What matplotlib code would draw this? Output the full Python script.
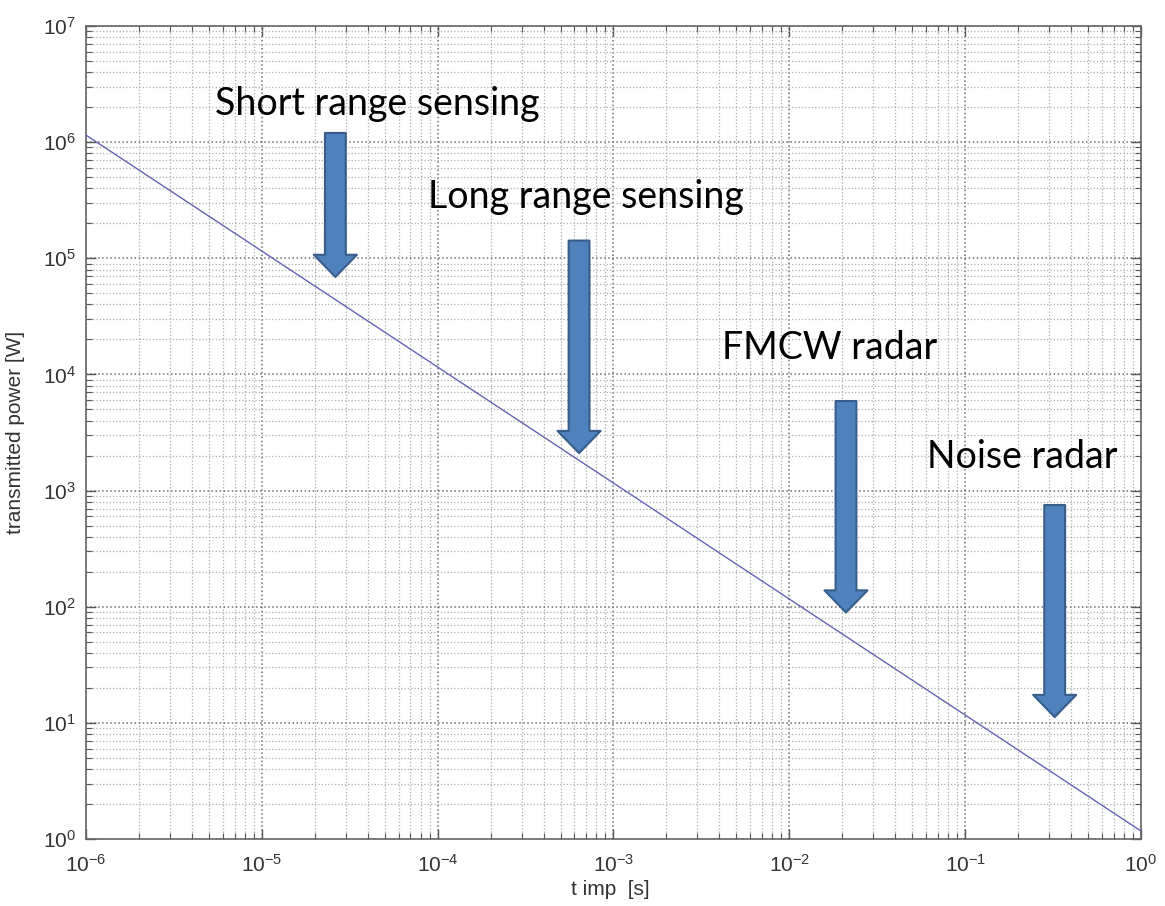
import matplotlib
matplotlib.use("Agg")
import matplotlib.pyplot as plt
from matplotlib.ticker import LogLocator, NullFormatter

plt.rcParams['font.family'] = ['Liberation Sans', 'DejaVu Sans']
plt.rcParams['mathtext.fontset'] = 'custom'
plt.rcParams['mathtext.rm'] = 'Liberation Sans'
plt.rcParams['mathtext.default'] = 'regular'

# data
t_imp = [1e-6, 1.0]
power = [1.15e6, 1.17]

labels = ["Short range sensing", "Long range sensing", "FMCW radar", "Noise radar"]
label_x = [5.42e-6, 8.8e-5, 4.15e-3, 6.08e-2]
label_y = [1.72e6, 2.72e5, 1.36e4, 1.57e3]
arrow_x = [2.62e-5, 6.37e-4, 2.10e-2, 0.323]
arrow_top = [1.2e6, 1.42e5, 5.9e3, 7.5e2]
arrow_tip = [6.9e4, 2.1e3, 89.0, 11.2]

fig = plt.figure(figsize=(11.65, 9.06), dpi=100)
ax = fig.add_axes([0.0738, 0.0740, 0.9056, 0.8973])
ax.set_xscale('log')
ax.set_yscale('log')
ax.set_xlim(1e-6, 1)
ax.set_ylim(1, 1e7)

ax.plot(t_imp, power, color='#6464b4', lw=1.0, zorder=3)

ax.xaxis.set_major_locator(LogLocator(base=10, numticks=20))
ax.yaxis.set_major_locator(LogLocator(base=10, numticks=20))
ax.xaxis.set_minor_locator(LogLocator(base=10, subs=range(2, 10), numticks=100))
ax.yaxis.set_minor_locator(LogLocator(base=10, subs=range(2, 10), numticks=100))
ax.xaxis.set_minor_formatter(NullFormatter())
ax.yaxis.set_minor_formatter(NullFormatter())

ax.grid(True, which='major', linestyle=':', color='#6f6f6f', lw=1.1)
ax.grid(True, which='minor', linestyle=':', color='#adadad', lw=0.9)
ax.tick_params(which='both', direction='in', top=True, right=True, colors='#555555',
               labelcolor='#333333', labelsize=15)
ax.tick_params(which='major', length=7, width=1, pad=7)
ax.tick_params(axis='x', which='major', pad=11)
ax.tick_params(which='minor', length=4, width=0.8)
for s in ax.spines.values():
    s.set_color('#666666')
    s.set_linewidth(1.2)

ax.set_xlabel('t imp  [s]', fontsize=15, color='#333333')
ax.set_ylabel('transmitted power [W]', fontsize=15, color='#333333')
ax.xaxis.set_label_coords(0.497, -0.050)
ax.yaxis.set_label_coords(-0.058, 0.5)

for x, y, txt in zip(label_x, label_y, labels):
    ax.text(x, y, txt, fontsize=27, family=['Lato', 'DejaVu Sans'], color='black',
            va='baseline', ha='left', zorder=5)

for x, y0, y1 in zip(arrow_x, arrow_top, arrow_tip):
    ax.annotate('', xy=(x, y1), xytext=(x, y0),
                arrowprops=dict(arrowstyle='simple,head_length=16,head_width=31,tail_width=15',
                                mutation_scale=1, shrinkA=0, shrinkB=0,
                                facecolor='#4f81bd', edgecolor='#385d8a', lw=1.5),
                zorder=6)

fig.savefig('out.png', dpi=100)
